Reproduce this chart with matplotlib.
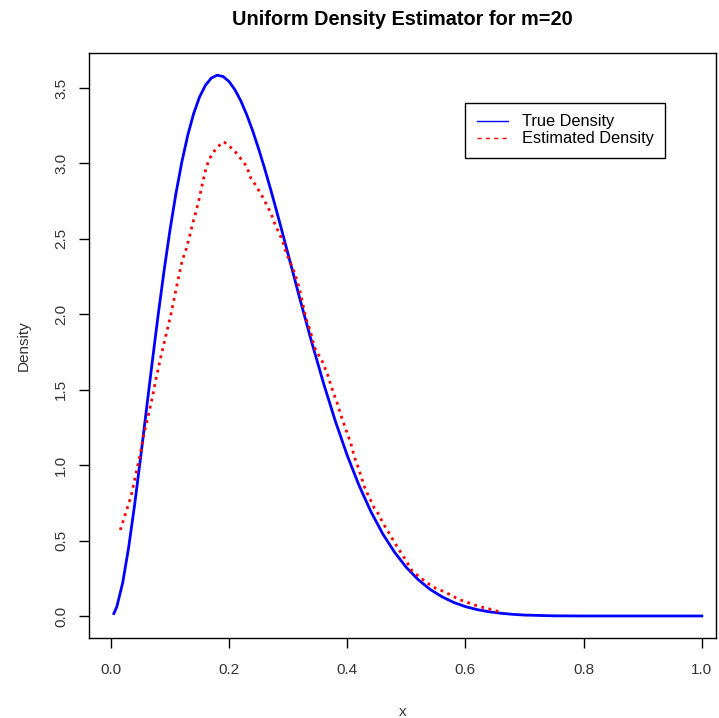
import matplotlib
matplotlib.use("Agg")
import matplotlib.pyplot as plt

plt.rcParams["font.family"] = ["Liberation Sans", "DejaVu Sans"]

# true density curve
x_true = [0.005, 0.01, 0.02, 0.03, 0.04, 0.05, 0.06, 0.07, 0.08, 0.09, 0.10,
          0.11, 0.12, 0.13, 0.14, 0.15, 0.16, 0.17, 0.18, 0.19, 0.20,
          0.21, 0.22, 0.23, 0.24, 0.25, 0.26, 0.27, 0.28, 0.29, 0.30,
          0.32, 0.34, 0.36, 0.38, 0.40,
          0.42, 0.44, 0.46, 0.48, 0.50, 0.52, 0.54, 0.56, 0.58, 0.60,
          0.62, 0.64, 0.66, 0.68, 0.70, 0.75, 0.80, 0.90, 1.00]
y_true = [0.016, 0.060, 0.220, 0.452, 0.731, 1.040, 1.362, 1.683, 1.995, 2.288, 2.557,
          2.798, 3.008, 3.185, 3.329, 3.440, 3.518, 3.566, 3.585, 3.576, 3.543,
          3.488, 3.414, 3.322, 3.216, 3.097, 2.969, 2.833, 2.691, 2.545, 2.397,
          2.100, 1.813, 1.541, 1.290, 1.064,
          0.865, 0.692, 0.545, 0.423, 0.322, 0.241, 0.177, 0.128, 0.090, 0.062,
          0.042, 0.028, 0.018, 0.011, 0.006, 0.001, 0.0, 0.0, 0.0]

# estimated density (m=20)
x_est = [0.016, 0.025, 0.034, 0.042, 0.050, 0.056, 0.063, 0.071, 0.076, 0.084,
         0.090, 0.096, 0.102, 0.110, 0.116, 0.121, 0.127, 0.133, 0.140, 0.144,
         0.149, 0.155, 0.161, 0.166, 0.172, 0.181, 0.191, 0.200, 0.209, 0.217,
         0.224, 0.230, 0.237, 0.245, 0.258, 0.265, 0.271, 0.278, 0.285, 0.291,
         0.297, 0.302, 0.310, 0.319, 0.330, 0.338, 0.344, 0.350, 0.358, 0.367,
         0.375, 0.384, 0.392, 0.401, 0.406, 0.412, 0.420, 0.429, 0.434, 0.446,
         0.454, 0.460, 0.471, 0.479, 0.488, 0.496, 0.510, 0.525, 0.536, 0.550,
         0.564, 0.575, 0.589, 0.600, 0.615, 0.629, 0.643, 0.658]
y_est = [0.570, 0.681, 0.791, 0.935, 1.078, 1.211, 1.321, 1.465, 1.564, 1.708,
         1.808, 1.907, 2.006, 2.161, 2.271, 2.360, 2.426, 2.514, 2.625, 2.680,
         2.758, 2.868, 2.968, 3.023, 3.067, 3.111, 3.144, 3.115, 3.085, 3.045,
         3.011, 2.978, 2.901, 2.857, 2.769, 2.713, 2.669, 2.592, 2.537, 2.481,
         2.404, 2.360, 2.282, 2.172, 1.973, 1.885, 1.785, 1.741, 1.686, 1.597,
         1.498, 1.399, 1.299, 1.200, 1.145, 1.056, 0.968, 0.857, 0.813, 0.714,
         0.670, 0.618, 0.548, 0.493, 0.437, 0.389, 0.298, 0.250, 0.217, 0.183,
         0.161, 0.139, 0.110, 0.095, 0.073, 0.057, 0.044, 0.027]

fig = plt.figure(figsize=(7.19, 7.18), dpi=100)
ax = fig.add_axes([89 / 719, 80 / 718, 627 / 719, 585 / 718])

ax.plot(x_true, y_true, color="blue", linewidth=2.0)
ax.plot(x_est, y_est, color="red", linewidth=2.0, linestyle=":")

# legend keys: thin solid blue, thin dashed red
key_true, = ax.plot([], [], color="blue", linewidth=1.0)
key_est, = ax.plot([], [], color="red", linewidth=1.0, linestyle=(0, (3, 3)))

ax.set_xlim(-0.037, 1.024)
ax.set_ylim(-0.146, 3.732)
ax.set_xticks([0.0, 0.2, 0.4, 0.6, 0.8, 1.0])
ax.set_yticks([0.0, 0.5, 1.0, 1.5, 2.0, 2.5, 3.0, 3.5])
ax.set_xticklabels(["0.0", "0.2", "0.4", "0.6", "0.8", "1.0"])
ax.set_yticklabels(["0.0", "0.5", "1.0", "1.5", "2.0", "2.5", "3.0", "3.5"],
                   rotation=90, va="center")
ax.tick_params(direction="out", length=7, width=1, labelsize=11,
               labelcolor="#333333")
ax.tick_params(axis="x", pad=11)
ax.tick_params(axis="y", pad=8)
for s in ax.spines.values():
    s.set_linewidth(1)

ax.set_xlabel("x", fontsize=11, color="#333333", labelpad=20)
ax.set_ylabel("Density", fontsize=11, color="#333333", labelpad=17)
ax.set_title("Uniform Density Estimator for m=20", fontsize=14.3,
             fontweight="bold", pad=20)

leg = ax.legend([key_true, key_est], ["True Density", "Estimated Density"],
                loc="upper left", bbox_to_anchor=(0.6, 0.9145),
                borderaxespad=0, fancybox=False, edgecolor="black",
                framealpha=1, fontsize=11.8, handlelength=1.9,
                handletextpad=0.85, borderpad=0.7, labelspacing=0.12)
leg.get_frame().set_linewidth(1)

fig.savefig("out.png", dpi=100)
